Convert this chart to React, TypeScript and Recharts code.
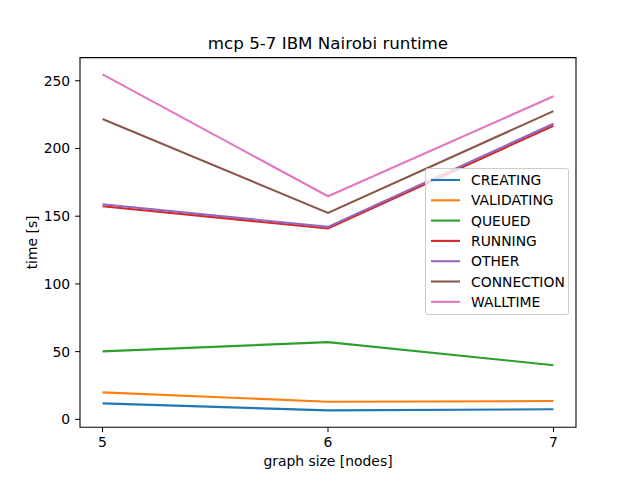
import React from 'react';
import { LineChart, Line, XAxis, YAxis, ReferenceArea } from 'recharts';

const graphSizes = [5, 6, 7];
const creating = [11.8, 6.6, 7.4];
const validating = [19.9, 13.0, 13.5];
const queued = [50.2, 57.0, 40.0];
const running = [157.3, 140.9, 216.8];
const other = [158.8, 142.1, 218.3];
const connection = [221.7, 152.4, 227.6];
const walltime = [254.7, 164.7, 238.5];
const xTicks = [5, 6, 7];
const yTicks = [0, 50, 100, 150, 200, 250];

const seriesNames = ['CREATING', 'VALIDATING', 'QUEUED', 'RUNNING', 'OTHER', 'CONNECTION', 'WALLTIME'];
const seriesValues = [creating, validating, queued, running, other, connection, walltime];
const colors = ['#1f77b4', '#ff7f0e', '#2ca02c', '#d62728', '#9467bd', '#8c564b', '#e377c2'];

const data = graphSizes.map((g, i) => {
  const row: Record<string, number> = { size: g };
  seriesNames.forEach((n, k) => {
    row[n] = seriesValues[k][i];
  });
  return row;
});

const FONT = "'DejaVu Sans', sans-serif";
const FS = 13.9;

const XLabel = (props: any) => {
  const vb = props.viewBox || {};
  return (
    <text x={vb.x + vb.width / 2} y={466} textAnchor="middle" fontFamily={FONT} fontSize={FS} fill="#000">
      graph size [nodes]
    </text>
  );
};

const YLabel = (props: any) => {
  const vb = props.viewBox || {};
  const cy = vb.y + vb.height / 2;
  return (
    <text x={37} y={cy} transform={`rotate(-90, 37, ${cy})`} textAnchor="middle" fontFamily={FONT} fontSize={FS} fill="#000">
      time [s]
    </text>
  );
};

const Legend = () => (
  <div
    style={{
      position: 'absolute',
      left: 425,
      top: 168,
      width: 144,
      height: 147,
      boxSizing: 'border-box',
      background: 'rgba(255,255,255,0.8)',
      border: '1px solid #cccccc',
      borderRadius: 3,
    }}
  >
    <svg width={144} height={147} style={{ position: 'absolute', left: -1, top: -1 }}>
      {seriesNames.map((n, i) => {
        const y = 12 + i * 20.3;
        return (
          <g key={n}>
            <line x1={6} x2={35} y1={y} y2={y} stroke={colors[i]} strokeWidth={2.1} />
            <text x={46} y={y + 5} fontFamily={FONT} fontSize={FS} fill="#000">
              {n}
            </text>
          </g>
        );
      })}
    </svg>
  </div>
);

export default function App() {
  return (
    <div style={{ position: 'absolute', left: 0, top: 0, width: 640, height: 480, background: '#fff' }}>
      <LineChart width={640} height={480} data={data} margin={{ top: 57.6, right: 64, bottom: 0, left: 0 }}>
        <XAxis
          dataKey="size"
          type="number"
          domain={[4.9, 7.1]}
          ticks={xTicks}
          allowDataOverflow
          height={52.8}
          tickSize={4.9}
          tickMargin={4.9}
          axisLine={false}
          tickLine={{ stroke: '#000', strokeWidth: 1 }}
          tick={{ fontFamily: FONT, fontSize: FS, fill: '#000' }}
          label={<XLabel />}
        />
        <YAxis
          type="number"
          domain={[-5.8, 267.1]}
          ticks={yTicks}
          allowDataOverflow
          width={80}
          tickSize={4.9}
          tickMargin={4.9}
          axisLine={false}
          tickLine={{ stroke: '#000', strokeWidth: 1 }}
          tick={{ fontFamily: FONT, fontSize: FS, fill: '#000' }}
          label={<YLabel />}
        />
        {seriesNames.map((n, i) => (
          <Line
            key={n}
            dataKey={n}
            type="linear"
            stroke={colors[i]}
            strokeWidth={2.1}
            dot={false}
            activeDot={false}
            isAnimationActive={false}
          />
        ))}
        <ReferenceArea x1={4.9} x2={7.1} y1={-5.8} y2={267.1} fill="none" stroke="#000" strokeWidth={1.1} ifOverflow="visible" />
      </LineChart>
      <div
        style={{
          position: 'absolute',
          left: 0,
          width: 656,
          top: 33,
          textAlign: 'center',
          fontFamily: FONT,
          fontSize: 16.7,
          lineHeight: '20px',
          color: '#000',
        }}
      >
        mcp 5-7 IBM Nairobi runtime
      </div>
      <Legend />
    </div>
  );
}
